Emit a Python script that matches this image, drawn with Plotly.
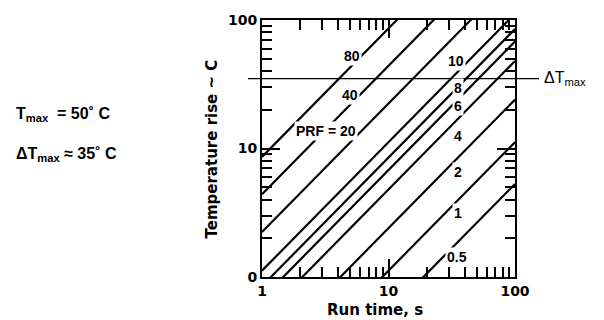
import math
import plotly.graph_objects as go

# Pulse repetition frequency of each curve (label text)
prf_labels = ["0.5", "1", "2", "4", "6", "8", "10", "20", "40", "80"]
# Temperature rise (deg C) after 1 s of running, one value per curve
rise_at_1s = [0.053, 0.112, 0.24, 0.48, 0.68, 0.85, 1.12, 2.24, 4.4, 8.6]
# Run-time span drawn for every curve, s
run_time_span = [1, 100]

x_tick_vals = [1, 10, 100]
x_tick_text = ["1", "10", "100"]
y_tick_vals = [1, 10, 100]
y_tick_text = ["0", "10", "100"]
minor_tick_vals = [2, 3, 4, 5, 6, 7, 8, 9, 20, 30, 40, 50, 60, 70, 80, 90]

t_max = 50        # deg C
delta_t_max = 35  # deg C

# Figure geometry (pixels)
W, H = 604, 320
ML, MR, MT, MB = 262, 89, 15, 43
PW, PH = W - ML - MR, H - MT - MB


def px(x):
    return (x - ML) / PW


def py(y):
    return (H - MB - y) / PH


fig = go.Figure()

for k in rise_at_1s:
    fig.add_trace(go.Scatter(
        x=run_time_span,
        y=[k * t for t in run_time_span],
        mode="lines",
        line=dict(color="black", width=2.2),
        hoverinfo="skip",
        showlegend=False,
    ))

# Curve labels: (text, run time, temperature rise) where each label sits
label_spots = [
    ("80", 5.1, 52),
    ("40", 5.0, 26.3),
    ("PRF = 20", 3.22, 13.7),
    ("10", 34.0, 47.7),
    ("8", 35.3, 29.6),
    ("6", 35.7, 21.6),
    ("4", 35.7, 12.6),
    ("2", 35.7, 6.55),
    ("1", 35.3, 3.13),
    ("0.5", 34.6, 1.42),
]

annotations = []
for text, t, rise in label_spots:
    annotations.append(dict(
        x=math.log10(t), y=math.log10(rise), xref="x", yref="y",
        text=f"<b>{text}</b>", showarrow=False, xanchor="center",
        yanchor="middle", bgcolor="white", borderpad=1,
        font=dict(family="Liberation Sans", size=14, color="black"),
    ))

bold = dict(family="DejaVu Sans", size=15, color="black")

annotations += [
    dict(x=px(542), y=math.log10(delta_t_max), xref="paper", yref="y",
         text="ΔT<sub>max</sub>", showarrow=False, xanchor="left",
         yanchor="middle",
         font=dict(family="Liberation Sans", size=16, color="black")),
    dict(x=px(14), y=py(111), xref="paper", yref="paper",
         text=f"<b>T<sub>max</sub>  = {t_max}˚ C</b>", showarrow=False,
         xanchor="left", yanchor="middle",
         font=dict(family="Liberation Sans", size=16, color="black")),
    dict(x=px(14), y=py(152), xref="paper", yref="paper",
         text=f"<b>ΔT<sub>max</sub> ≈ {delta_t_max}˚ C</b>", showarrow=False,
         xanchor="left", yanchor="middle",
         font=dict(family="Liberation Sans", size=16, color="black")),
    dict(x=px(375), y=py(311), xref="paper", yref="paper",
         text="<b>Run time, s</b>", showarrow=False,
         xanchor="center", yanchor="middle", font=bold),
    dict(x=px(212), y=py(147), xref="paper", yref="paper",
         text="<b>Temperature rise ~ C</b>", showarrow=False, textangle=-90,
         xanchor="center", yanchor="middle", font=bold),
]

fig.add_shape(type="line", xref="paper", yref="y",
              x0=px(248), x1=px(539), y0=delta_t_max, y1=delta_t_max,
              line=dict(color="black", width=1.2), layer="above")

axis_common = dict(
    type="log", showgrid=False, zeroline=False,
    showline=True, linewidth=2, linecolor="black", mirror="ticks",
    ticks="inside", ticklen=18, tickwidth=2, tickcolor="black",
    tickmode="array",
    minor=dict(tickmode="array", tickvals=minor_tick_vals, ticks="inside",
               ticklen=10, tickwidth=1.5, tickcolor="black", showgrid=False),
    tickfont=dict(family="DejaVu Sans", size=14, color="black"),
)

fig.update_xaxes(range=[0, 2], tickvals=x_tick_vals,
                 ticktext=[f"<b>{s}</b>" for s in x_tick_text], **axis_common)
fig.update_yaxes(range=[0, 2], tickvals=y_tick_vals,
                 ticktext=[f"<b>{s}</b>" for s in y_tick_text], **axis_common)

fig.update_layout(
    width=W, height=H,
    margin=dict(l=ML, r=MR, t=MT, b=MB),
    plot_bgcolor="white", paper_bgcolor="white",
    annotations=annotations,
)

fig.write_html("out.html")
